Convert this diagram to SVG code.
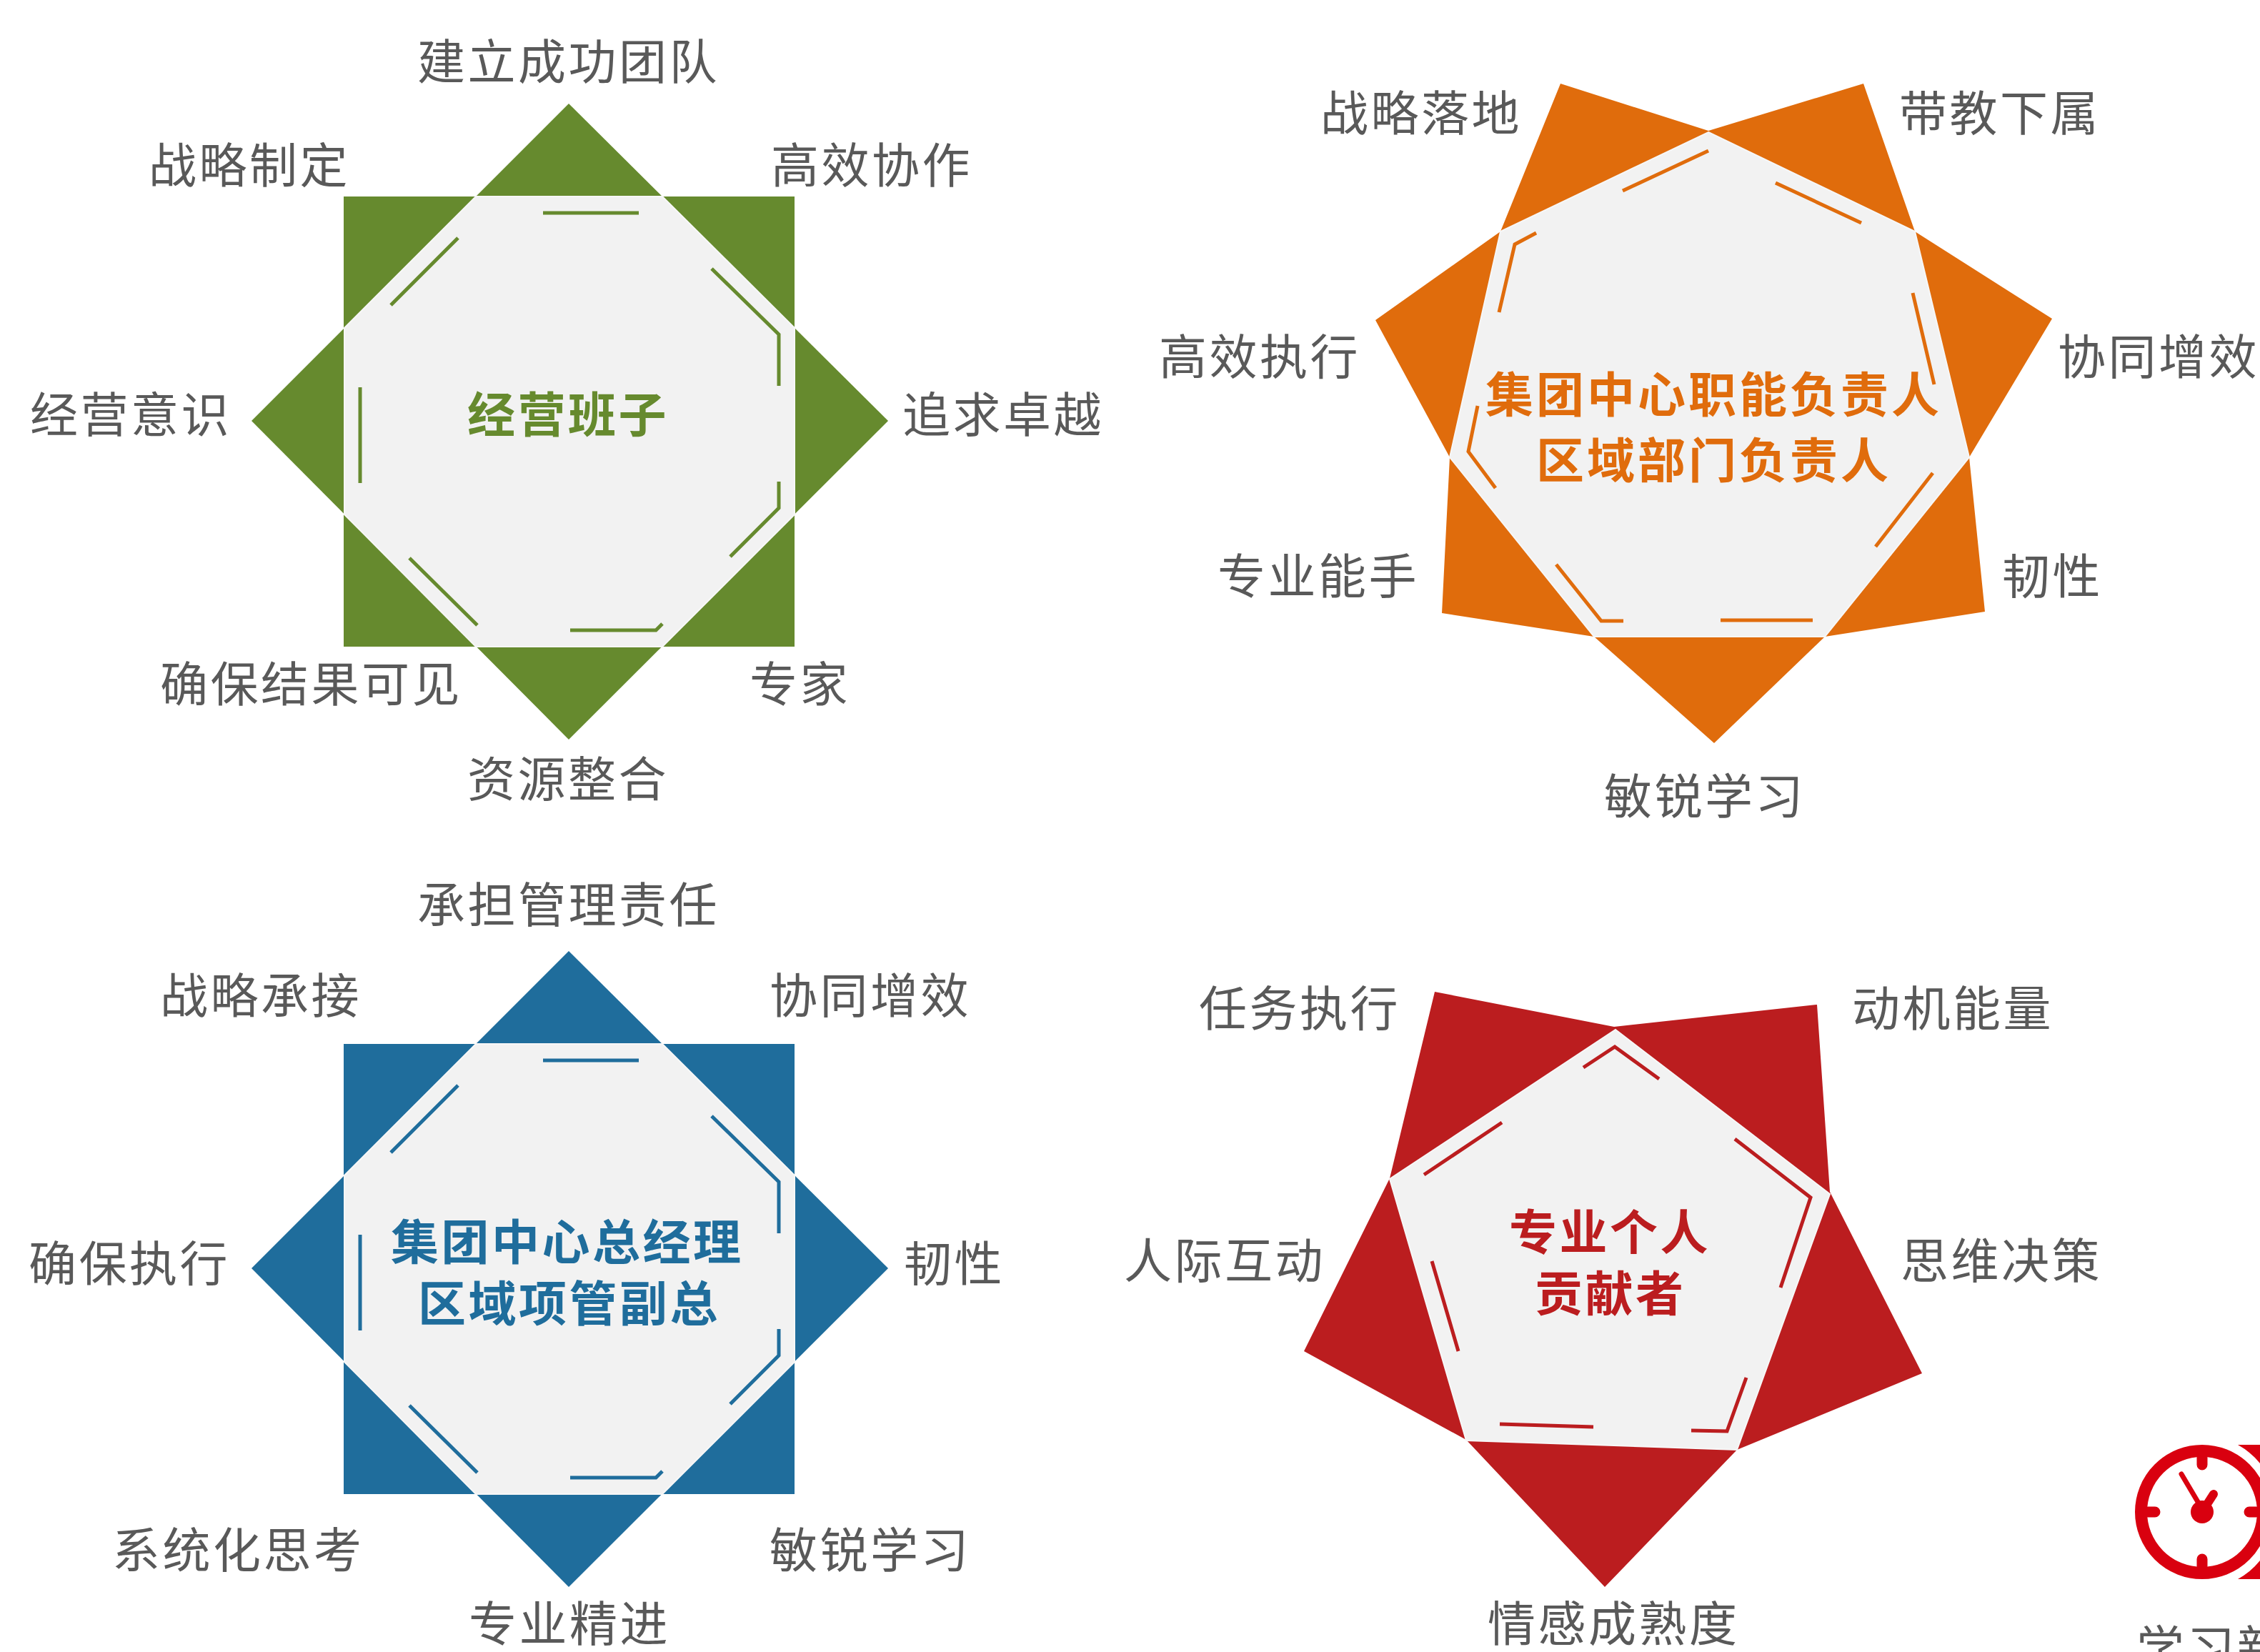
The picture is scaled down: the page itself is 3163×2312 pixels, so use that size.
<svg xmlns="http://www.w3.org/2000/svg" width="3163" height="2312" viewBox="0 0 3163 2312">
<style>
text{font-family:"Noto Sans CJK SC","Noto Sans",sans-serif;font-size:67px;letter-spacing:3.5px;fill:#595959}
.c{font-weight:700}
.in{fill:#f2f2f2;stroke:#f7f7f7;stroke-width:2}
.l{fill:none;stroke-width:5}
.g{fill:#668a2e}.o{fill:#e06c0c}.b{fill:#1f6d9c}.r{fill:#bb1d1f}
.gs{stroke:#668a2e}.os{stroke:#e06c0c}.bs{stroke:#1f6d9c}.rs{stroke:#bb1d1f}
.ck{fill:#d9000f}
</style>
<defs>
<g id="eight">
<rect x="481" y="275" width="631" height="630"/>
<polygon points="796,145 1243,589 796,1035 352,589"/>
<polygon class="in" points="666,275 927,275 1112,459 1112,720 927,905 666,905 482,720 482,459"/>
</g>
<g id="eightlines" fill="none" stroke-width="5">
<path d="M760 298H894M641 333L547 427M996 376L1090 468V540M504 542V676M1090 674V711L1022 779M573 781L668 875M798 882H918L927 873"/>
</g>
</defs>
<rect width="3163" height="2312" fill="#fff"/>

<g id="node-green">
<use href="#eight" class="g"/>
<use href="#eightlines" class="gs"/>
<text x="584" y="111">建立成功团队</text>
<text x="208" y="256">战略制定</text>
<text x="1079" y="256">高效协作</text>
<text x="42" y="605">经营意识</text>
<text x="1263" y="605">追求卓越</text>
<text x="224" y="982">确保结果可见</text>
<text x="1049" y="982">专家</text>
<text x="654" y="1115">资源整合</text>
<text class="c" x="654" y="605" style="fill:#668a2e">经营班子</text>
</g>

<g id="node-orange">
<polygon class="o" points="2184,117 2391,183 2608,117 2680,324 2872,446 2756,640 2778,856 2554,891 2399,1040 2231,891 2018,858 2029,640 1925,448 2100,324"/>
<polygon class="in" points="2391,185 2680,324 2756,640 2554,891 2231,891 2029,640 2100,324"/>
<path class="l os" d="M2391 211L2271 267M2485 256L2605 312M2677 410L2707 538M2705 662L2625 765M2537 868H2408M2272 869H2241L2178 790M2093 683L2055 632L2068 568M2098 437L2120 342L2150 326"/>
<text x="1848" y="183">战略落地</text>
<text x="2658" y="183">带教下属</text>
<text x="1622" y="524">高效执行</text>
<text x="2880" y="524">协同增效</text>
<text x="1704" y="831">专业能手</text>
<text x="2802" y="831">韧性</text>
<text x="2245" y="1139">敏锐学习</text>
<text class="c" x="2079" y="577" style="fill:#e06c0c;letter-spacing:4px">集团中心职能负责人</text>
<text class="c" x="2150" y="669" style="fill:#e06c0c;letter-spacing:4px">区域部门负责人</text>
</g>

<g id="node-blue">
<g transform="translate(0 1186)">
<use href="#eight" class="b"/>
<use href="#eightlines" class="bs"/>
</g>
<text x="584" y="1291">承担管理责任</text>
<text x="224" y="1418">战略承接</text>
<text x="1077" y="1418">协同增效</text>
<text x="40" y="1793">确保执行</text>
<text x="1265" y="1793">韧性</text>
<text x="157" y="2194">系统化思考</text>
<text x="1077" y="2194">敏锐学习</text>
<text x="656" y="2297">专业精进</text>
<text class="c" x="547" y="1763" style="fill:#1f6d9c">集团中心总经理</text>
<text class="c" x="585" y="1849" style="fill:#1f6d9c">区域项管副总</text>
</g>

<g id="node-red">
<polygon class="r" points="2008,1388 2259,1437 2543,1406 2561,1668 2690,1922 2431,2029 2246,2221 2052,2015 1825,1891 1945,1649"/>
<polygon class="in" points="2261,1441 2561,1671 2431,2029 2052,2016 1945,1650"/>
<path class="l rs" d="M2216 1494L2260 1465L2322 1510M2428 1594L2534 1676L2492 1802M2444 1928L2417 2003L2367 2002M2230 1997L2099 1993M2041 1891L2004 1765M1993 1644L2102 1571"/>
<text x="1678" y="1436">任务执行</text>
<text x="2592" y="1436">动机能量</text>
<text x="1573" y="1789">人际互动</text>
<text x="2660" y="1789">思维决策</text>
<text x="2082" y="2297">情感成熟度</text>
<text class="c" x="2112" y="1749" style="fill:#bb1d1f">专业个人</text>
<text class="c" x="2148" y="1835" style="fill:#bb1d1f">贡献者</text>
</g>

<g id="node-clock">
<circle cx="3082" cy="2116" r="85.5" fill="none" stroke="#d9000f" stroke-width="17"/>
<path fill="none" stroke="#d9000f" stroke-width="15" stroke-linecap="round" d="M3082 2040V2050M3082 2192V2182M3006 2116H3016M3158 2116H3148"/>
<path fill="none" stroke="#d9000f" stroke-width="7" stroke-linecap="round" d="M3053 2063L3082 2112"/>
<path fill="none" stroke="#d9000f" stroke-width="12" stroke-linecap="round" d="M3098 2091L3082 2116"/>
<circle class="ck" cx="3082" cy="2116" r="16"/>
<path class="ck" d="M3132 2022H3163V2048A106 106 0 0 0 3132 2022Z"/>
<path class="ck" d="M3132 2210H3163V2184A106 106 0 0 1 3132 2210Z"/>
<text x="2990" y="2331">学习新</text>
</g>
</svg>
